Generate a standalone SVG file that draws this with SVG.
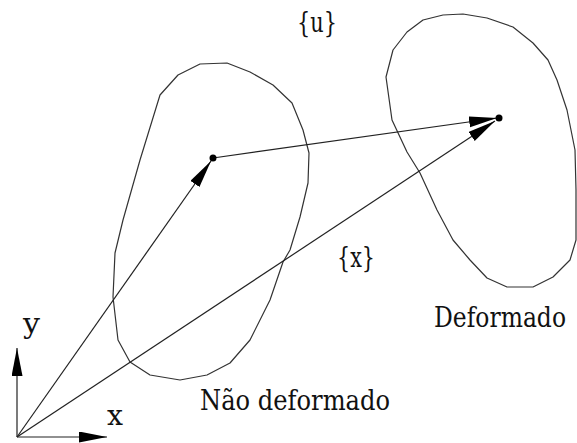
<svg xmlns="http://www.w3.org/2000/svg" width="577" height="443" viewBox="0 0 577 443">
<style>
.ln{fill:none;stroke:#222;stroke-width:1.2;stroke-linejoin:round}
.bl{fill:none;stroke:#333;stroke-width:1.2;stroke-linejoin:round}
text{font-family:'DejaVu Serif','Liberation Serif',serif;font-size:27px;fill:#111}
</style>
<defs>
<marker id="ah" markerUnits="userSpaceOnUse" markerWidth="30" markerHeight="12" refX="28" refY="5.5" orient="auto">
<path d="M0,0 L28,5.5 L0,11 z" fill="#000"/>
</marker>
</defs>
<rect width="577" height="443" fill="#fff"/>
<g id="undeformed">
<path class="bl" d="M200,64 L227,63 L250,72 L273,85 L292,103 L303,130 L309,153 L308,183 L300,217 L290,250 L283,262 L270,300 L250,340 L230,363 L207,375 L180,380 L150,375 L130,362 L118,340 L113,297 L115,253 L123,220 L140,160 L160,95 L178,75 Z"/>
</g>
<g id="deformed">
<path class="bl" d="M443,15 L463,14 L487,18 L513,27 L533,43 L548,60 L557,80 L567,110 L575,150 L576,190 L576,240 L570,260 L553,277 L533,287 L507,287 L487,278 L470,260 L453,240 L437,210 L420,173 L407,152 L392,120 L386,77 L393,50 L407,32 L423,20 Z"/>
</g>
<g id="connectors">
<line class="ln" x1="17" y1="437" x2="17" y2="348" marker-end="url(#ah)"/>
<line class="ln" x1="17" y1="437" x2="107" y2="437" marker-end="url(#ah)"/>
<line class="ln" x1="17" y1="437" x2="211" y2="161" marker-end="url(#ah)"/>
<line class="ln" x1="17" y1="437" x2="495" y2="121" marker-end="url(#ah)"/>
<line class="ln" x1="213" y1="158" x2="497" y2="118" marker-end="url(#ah)"/>
</g>
<g id="points">
<circle cx="213" cy="158" r="3.5" fill="#000"/>
<circle cx="499" cy="118" r="3.5" fill="#000"/>
</g>
<g id="labels">
<text x="297" y="32" textLength="40" lengthAdjust="spacingAndGlyphs">{u}</text>
<text x="337" y="267" textLength="38" lengthAdjust="spacingAndGlyphs">{x}</text>
<text x="434" y="327" font-size="25" textLength="132" lengthAdjust="spacingAndGlyphs">Deformado</text>
<text x="200" y="410" textLength="190" lengthAdjust="spacingAndGlyphs">Não deformado</text>
<text x="23" y="333" textLength="17" lengthAdjust="spacingAndGlyphs">y</text>
<text x="107" y="425" textLength="16" lengthAdjust="spacingAndGlyphs">x</text>
</g>
</svg>
